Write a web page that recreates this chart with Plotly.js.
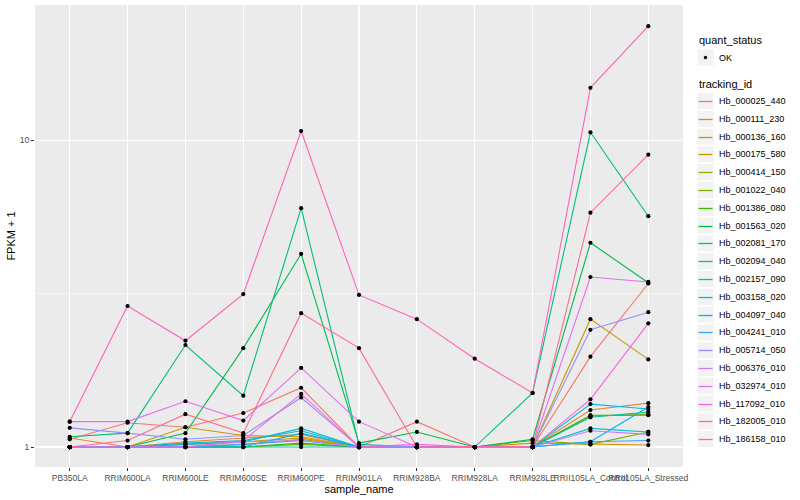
<!DOCTYPE html>
<html>
<head>
<meta charset="utf-8">
<script src="https://cdn.plot.ly/plotly-3.0.1.min.js"></script>
<style>html,body{margin:0;padding:0;background:#fff;}#chart{width:800px;height:500px;}</style>
</head>
<body>
<div id="chart"></div>
<script>
// ---- data ----
const samples = ["PB350LA","RRIM600LA","RRIM600LE","RRIM600SE","RRIM600PE","RRIM901LA","RRIM928BA","RRIM928LA","RRIM928LE","RRII105LA_Control","RRII105LA_Stressed"];
const trackingIds = ["Hb_000025_440","Hb_000111_230","Hb_000136_160","Hb_000175_580","Hb_000414_150","Hb_001022_040","Hb_001386_080","Hb_001563_020","Hb_002081_170","Hb_002094_040","Hb_002157_090","Hb_003158_020","Hb_004097_040","Hb_004241_010","Hb_005714_050","Hb_006376_010","Hb_032974_010","Hb_117092_010","Hb_182005_010","Hb_186158_010"];
const quantStatus = "OK";

const hb_000025_440 = [1.06, 1.20, 1.16, 1.29, 1.56, 1.00, 1.21, 1.00, 1.00, 1.97, 3.41];
const hb_000111_230 = [1.07, 1.00, 1.04, 1.07, 1.10, 1.00, 1.00, 1.00, 1.00, 1.32, 1.39];
const hb_000136_160 = [1.00, 1.00, 1.02, 1.04, 1.07, 1.00, 1.00, 1.00, 1.03, 1.02, 1.015];
const hb_000175_580 = [1.00, 1.00, 1.16, 1.09, 1.08, 1.00, 1.00, 1.00, 1.00, 2.61, 1.93];
const hb_000414_150 = [1.00, 1.00, 1.00, 1.02, 1.06, 1.00, 1.00, 1.00, 1.00, 1.26, 1.28];
const hb_001022_040 = [1.00, 1.00, 1.00, 1.00, 1.02, 1.00, 1.00, 1.00, 1.05, 1.02, 1.12];
const hb_001386_080 = [1.00, 1.00, 1.00, 1.00, 1.03, 1.00, 1.00, 1.00, 1.00, 1.27, 1.27];
const hb_001563_020 = [1.00, 1.00, 1.11, 2.10, 4.26, 1.03, 1.12, 1.00, 1.06, 4.63, 3.43];
const hb_002081_170 = [1.08, 1.11, 2.15, 1.47, 6.00, 1.02, 1.00, 1.00, 1.50, 10.6, 5.65];
const hb_002094_040 = [1.00, 1.00, 1.00, 1.00, 1.00, 1.00, 1.00, 1.00, 1.00, 1.25, 1.30];
const hb_002157_090 = [1.00, 1.00, 1.03, 1.05, 1.13, 1.00, 1.00, 1.00, 1.00, 1.15, 1.12];
const hb_003158_020 = [1.00, 1.00, 1.02, 1.04, 1.15, 1.00, 1.00, 1.00, 1.00, 1.38, 1.33];
const hb_004097_040 = [1.00, 1.00, 1.00, 1.00, 1.11, 1.00, 1.00, 1.00, 1.00, 1.04, 1.35];
const hb_004241_010 = [1.00, 1.00, 1.00, 1.02, 1.05, 1.00, 1.00, 1.00, 1.00, 1.04, 1.05];
const hb_005714_050 = [1.155, 1.11, 1.06, 1.09, 1.45, 1.00, 1.00, 1.00, 1.00, 2.41, 2.75];
const hb_006376_010 = [1.00, 1.00, 1.00, 1.04, 1.05, 1.00, 1.00, 1.00, 1.00, 1.13, 1.10];
const hb_032974_010 = [1.21, 1.21, 1.41, 1.22, 1.81, 1.21, 1.00, 1.00, 1.00, 3.58, 3.45];
const hb_117092_010 = [1.00, 1.00, 1.00, 1.05, 1.49, 1.00, 1.02, 1.00, 1.00, 1.43, 2.53];
const hb_182005_010 = [1.21, 2.88, 2.22, 3.15, 10.7, 3.13, 2.61, 1.94, 1.50, 14.8, 23.5];
const hb_186158_010 = [1.00, 1.05, 1.28, 1.11, 2.73, 2.10, 1.00, 1.00, 1.00, 5.80, 8.96];

const seriesValues = [hb_000025_440, hb_000111_230, hb_000136_160, hb_000175_580, hb_000414_150, hb_001022_040, hb_001386_080, hb_001563_020, hb_002081_170, hb_002094_040, hb_002157_090, hb_003158_020, hb_004097_040, hb_004241_010, hb_005714_050, hb_006376_010, hb_032974_010, hb_117092_010, hb_182005_010, hb_186158_010];

const yTickVals = [1, 10];
const yTickText = ["1", "10"];

// ---- styles ----
const palette = ["#F8766D","#EA8331","#D89000","#C09B00","#A3A500","#7CAE00","#39B600","#00BB4E","#00BF7D","#00C1A3","#00BFC4","#00BAE0","#00B0F6","#35A2FF","#9590FF","#C77CFF","#E76BF3","#FA62DB","#FF62BC","#FF6C91"];
const FONT = "Liberation Sans, Arial, Helvetica, sans-serif";

// plot area in pixels (for legend placement)
const W = 800, H = 500, ML = 35, MR = 117, MT = 5, MB = 33;
const PW = W - ML - MR, PH = H - MT - MB;
const px2x = p => (p - ML) / PW;
const px2y = p => (H - MB - p) / PH;

const traces = [];
trackingIds.forEach((id, i) => {
  traces.push({
    type: "scatter", mode: "lines",
    x: samples, y: seriesValues[i],
    name: id,
    line: {color: palette[i], width: 1.1},
    showlegend: false
  });
});

// points (quant_status)
const ptsX = [], ptsY = [];
seriesValues.forEach(vals => vals.forEach((v, j) => { ptsX.push(samples[j]); ptsY.push(v); }));
traces.push({
  type: "scatter", mode: "markers",
  x: ptsX, y: ptsY,
  name: quantStatus,
  marker: {color: "#000", size: 4.2},
  showlegend: false
});

// ---- manual ggplot-style legend ----
const shapes = [], annotations = [];
const keyL = 697, keyR = 714, textX = 717, keyH = 17;
function addTitle(text, yc) {
  annotations.push({xref: "paper", yref: "paper", x: px2x(keyL), y: px2y(yc), xanchor: "left", yanchor: "middle",
    text: text, showarrow: false, font: {family: FONT, size: 11, color: "#000"}});
}
function addKeyBox(yc) {
  shapes.push({type: "rect", xref: "paper", yref: "paper", x0: px2x(keyL), x1: px2x(keyR),
    y0: px2y(yc + keyH / 2), y1: px2y(yc - keyH / 2), fillcolor: "#F2F2F2", line: {color: "#FFFFFF", width: 1}, layer: "below"});
}
function addLabel(text, yc) {
  annotations.push({xref: "paper", yref: "paper", x: px2x(textX), y: px2y(yc), xanchor: "left", yanchor: "middle",
    text: text, showarrow: false, font: {family: FONT, size: 9, color: "#000"}});
}
addTitle("quant_status", 40);
addKeyBox(57.5);
shapes.push({type: "circle", xref: "paper", yref: "paper", x0: px2x(703.8), x1: px2x(707.2),
  y0: px2y(59.2), y1: px2y(55.8), fillcolor: "#000", line: {color: "#000", width: 0}});
addLabel(quantStatus, 57.5);
addTitle("tracking_id", 84);
trackingIds.forEach((id, i) => {
  const yc = 101 + i * 17.8;
  const yl = Math.round(yc) + 0.5;
  addKeyBox(yc);
  shapes.push({type: "line", xref: "paper", yref: "paper", x0: px2x(698.5), x1: px2x(712.5),
    y0: px2y(yl), y1: px2y(yl), line: {color: palette[i], width: 1.3}});
  addLabel(id, yc);
});

const layout = {
  width: W, height: H,
  margin: {l: ML, r: MR, t: MT, b: MB},
  paper_bgcolor: "#FFFFFF",
  plot_bgcolor: "#EBEBEB",
  font: {family: FONT, size: 9, color: "#4D4D4D"},
  showlegend: false,
  shapes: shapes,
  annotations: annotations,
  xaxis: {
    type: "category",
    range: [-0.6, 10.6],
    showgrid: true, gridcolor: "#FFFFFF", gridwidth: 1.1,
    zeroline: false, showline: false,
    ticks: "outside", ticklen: 3, tickcolor: "#333333", tickwidth: 1,
    tickangle: 0,
    tickfont: {size: 8.5, color: "#4D4D4D", family: FONT},
    title: {text: "sample_name", font: {size: 11, color: "#000", family: FONT}, standoff: 2}
  },
  yaxis: {
    type: "log",
    range: [-0.065, 1.44],
    tickmode: "array", tickvals: yTickVals, ticktext: yTickText,
    showgrid: true, gridcolor: "#FFFFFF", gridwidth: 1.1,
    minor: {tickmode: "array", tickvals: [3.1623], showgrid: true, gridcolor: "#FFFFFF", gridwidth: 0.5, ticks: ""},
    zeroline: false, showline: false,
    ticks: "outside", ticklen: 3, tickcolor: "#333333", tickwidth: 1,
    tickfont: {size: 8.5, color: "#4D4D4D", family: FONT},
    title: {text: "FPKM + 1", font: {size: 11, color: "#000", family: FONT}, standoff: 1}
  }
};

Plotly.newPlot("chart", traces, layout, {displayModeBar: false, staticPlot: true});
</script>
</body>
</html>
